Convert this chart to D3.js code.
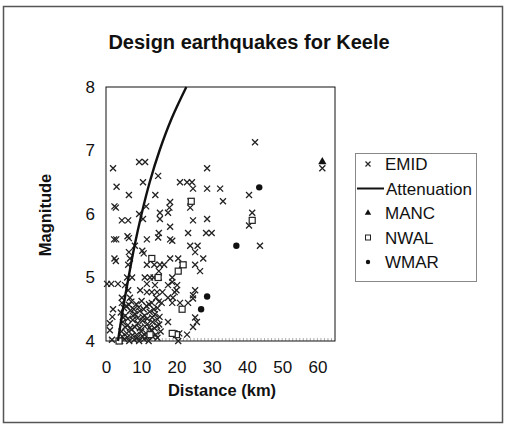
<!DOCTYPE html>
<html>
<head>
<meta charset="utf-8">
<script src="https://cdn.jsdelivr.net/npm/d3@7"></script>
<style>
body { margin: 0; background: #fff; }
text { font-family: "Liberation Sans", Arial, sans-serif; fill: #111; }
</style>
</head>
<body>
<svg id="chart" width="506" height="426"></svg>
<script>
// Data: [distance km, magnitude]
var emidPoints = [
  [2.0,6.72],[9.4,6.82],[11.1,6.82],[14.8,6.6],[28.7,6.72],[42.3,7.13],[61.4,6.72],
  [3.0,6.43],[10.5,6.5],[21.0,6.5],[23.0,6.5],[24.4,6.5],[24.7,6.4],[28.7,6.4],[32.4,6.4],
  [6.5,6.3],[14.0,6.3],[40.6,6.3],
  [2.4,6.12],[2.8,6.1],[11.4,6.12],[18.2,6.19],[24.0,6.2],[33.2,6.2],[23.9,6.1],[18.0,6.1],
  [9.4,6.0],[15.3,6.02],[17.6,6.02],[41.5,6.02],
  [4.5,5.9],[6.3,5.9],[10.5,5.92],[15.3,5.92],[24.7,5.9],[28.7,5.92],[40.6,5.82],[18.2,5.8],
  [15.0,5.7],[23.3,5.7],[28.4,5.7],[30.0,5.7],
  [2.3,5.6],[2.9,5.6],[6.1,5.65],[6.5,5.62],[11.6,5.6],[14.8,5.63],[18.2,5.6],[18.8,5.58],
  [23.9,5.5],[26.0,5.5],[43.7,5.5],[8.2,5.5],
  [6.5,5.4],[10.3,5.42],[10.7,5.38],[25.3,5.4],
  [2.4,5.3],[2.8,5.26],[6.8,5.3],[18.2,5.3],[20.5,5.3],[27.6,5.3],
  [6.3,5.2],[11.6,5.2],[13.7,5.2],[15.3,5.2],[16.5,5.2],[21.6,5.2],[21.9,5.2],[25.3,5.2],
  [15.0,5.1],[26.7,5.1],
  [6.0,5.0],[7.4,5.0],[11.0,5.0],[12.5,5.0],[13.5,5.0],[15.0,5.0],[18.8,5.0],
  [0.3,4.9],[1.5,4.9],[3.4,4.9],[5.4,4.88],[11.6,4.9],[13.9,4.88],[17.6,4.88],[20.2,4.88],[18.8,4.93],
  [6.3,4.8],[9.7,4.8],[20.0,4.8],[25.3,4.8],
  [11.6,4.77],[13.0,4.77],[14.5,4.77],[16.0,4.77],[19.5,4.77],[24.7,4.72],
  [4.5,4.68],[6.8,4.68],[14.2,4.68],[17.6,4.68],[19.0,4.68],[23.3,4.6],[18.8,4.6],[21.0,4.6],[24.7,4.67],
  [2.0,4.5],[1.8,4.38],[25.3,4.37],[17.6,4.3],[25.8,4.3],[24.7,4.22],[1.1,4.28],[1.1,4.17],
  [1.7,4.02],[4.0,4.0],[23.0,4.1],[19.4,4.12],[20.8,4.12],[20.5,4.0],
  // dense cluster near the site
  [4.5,4.6],[5.8,4.55],[7.2,4.62],[8.6,4.58],[10.1,4.63],[11.5,4.55],[13.0,4.6],[14.6,4.52],[15.8,4.6],
  [4.2,4.45],[5.5,4.4],[6.9,4.48],[8.3,4.42],[9.6,4.47],[11.0,4.4],[12.4,4.46],[13.9,4.42],[15.2,4.38],
  [4.8,4.3],[6.2,4.25],[7.6,4.33],[9.0,4.28],[10.4,4.32],[11.8,4.27],[13.2,4.3],[14.5,4.24],
  [4.4,4.15],[5.9,4.12],[7.3,4.18],[8.7,4.1],[10.0,4.15],[11.4,4.12],[12.8,4.17],[14.1,4.1],[15.5,4.15],
  [5.2,4.03],[6.6,4.0],[8.0,4.02],[9.4,4.0],[10.8,4.03],[12.1,4.0],
  [5.1,4.52],[6.5,4.57],[7.9,4.5],[9.3,4.53],[10.7,4.5],[12.2,4.58],[13.6,4.5],[15.0,4.62],
  [4.9,4.37],[6.2,4.35],[7.6,4.4],[9.0,4.36],[10.4,4.38],[11.7,4.35],[13.1,4.37],[14.6,4.34],
  [5.4,4.22],[6.8,4.2],[8.2,4.22],[9.6,4.2],[11.0,4.23],[12.4,4.21],[13.8,4.2],[15.1,4.26],
  [4.6,4.07],[6.1,4.06],[7.5,4.09],[8.9,4.05],[10.3,4.08],[11.7,4.06],[13.2,4.07],[14.6,4.05]
];
var nwalPoints = [
  [24.2,6.2],[41.5,5.9],[13.0,5.3],[21.9,5.2],[20.5,5.1],[14.8,5.0],
  [21.6,4.5],[20.0,4.1],[3.7,4.0],[12.5,4.1],[18.8,4.12]
];
var mancPoints = [[61.4,6.82]];
var wmarPoints = [[43.5,6.42],[37.0,5.5],[28.7,4.7],[27.0,4.5]];

// Attenuation curve, read at half-magnitude steps
var attenMag  = [4.0, 4.5, 5.0, 5.5, 6.0, 6.5, 7.0, 7.5, 8.0];
var attenDist = [3.4, 4.8, 6.4, 8.1, 10.1, 12.4, 15.2, 18.6, 22.8];

var xTicks = [0, 10, 20, 30, 40, 50, 60];
var yTicks = [4, 5, 6, 7, 8];
var legendNames = ['EMID', 'Attenuation', 'MANC', 'NWAL', 'WMAR'];

var svg = d3.select('#chart');

// outer frame of the figure
svg.append('rect')
  .attr('x', 3.5).attr('y', 6.5).attr('width', 499).attr('height', 416)
  .attr('fill', 'none').attr('stroke', '#555').attr('stroke-width', 1.5);

var x = d3.scaleLinear().domain([0, 65]).range([106, 335]),
    y = d3.scaleLinear().domain([4, 8]).range([341, 87]);

// title
svg.append('text')
  .attr('x', 249).attr('y', 49)
  .attr('text-anchor', 'middle')
  .style('font-size', '20px').style('font-weight', 'bold')
  .text('Design earthquakes for Keele');

// axes
var gx = svg.append('g')
  .attr('transform', 'translate(0,341)')
  .call(d3.axisBottom(x).tickValues(xTicks).tickFormat(d3.format('d')).tickSize(0).tickPadding(20));
gx.select('.domain').remove();
gx.selectAll('text').style('font-size', '17px').attr('fill', '#111');

var gy = svg.append('g')
  .attr('transform', 'translate(106,0)')
  .call(d3.axisLeft(y).tickValues(yTicks).tickFormat(d3.format('d')).tickSize(0).tickPadding(11));
gy.select('.domain').remove();
gy.selectAll('text').style('font-size', '17px').attr('fill', '#111');

// minor inward ticks along the bottom edge
svg.append('g').selectAll('line')
  .data(d3.range(1, 65))
  .enter().append('line')
  .attr('x1', function(d) { return x(d); })
  .attr('x2', function(d) { return x(d); })
  .attr('y1', 341).attr('y2', 338)
  .attr('stroke', '#999').attr('stroke-width', 0.8);

// axis titles
svg.append('text')
  .attr('x', 222).attr('y', 396)
  .attr('text-anchor', 'middle')
  .style('font-size', '16.5px').style('font-weight', 'bold')
  .text('Distance (km)');
svg.append('text')
  .attr('transform', 'translate(51,215) rotate(-90)')
  .attr('text-anchor', 'middle')
  .style('font-size', '16.5px').style('font-weight', 'bold')
  .text('Magnitude');

// plot frame
svg.append('rect')
  .attr('x', 106).attr('y', 87).attr('width', 229).attr('height', 254)
  .attr('fill', 'none').attr('stroke', '#111').attr('stroke-width', 1);

var crossPath = 'M-3,-3L3,3M-3,3L3,-3';

// EMID crosses
svg.append('g').selectAll('path')
  .data(emidPoints)
  .enter().append('path')
  .attr('d', crossPath)
  .attr('transform', function(d) { return 'translate(' + x(d[0]) + ',' + y(d[1]) + ')'; })
  .attr('fill', 'none').attr('stroke', '#222').attr('stroke-width', 1.3);

// MANC triangles
svg.append('g').selectAll('path')
  .data(mancPoints)
  .enter().append('path')
  .attr('d', d3.symbol().type(d3.symbolTriangle).size(30))
  .attr('transform', function(d) { return 'translate(' + x(d[0]) + ',' + y(d[1]) + ')'; })
  .attr('fill', '#111');

// NWAL squares
svg.append('g').selectAll('rect')
  .data(nwalPoints)
  .enter().append('rect')
  .attr('x', function(d) { return x(d[0]) - 3; })
  .attr('y', function(d) { return y(d[1]) - 3; })
  .attr('width', 6).attr('height', 6)
  .attr('fill', '#fff').attr('stroke', '#222').attr('stroke-width', 1.2);

// WMAR dots
svg.append('g').selectAll('circle')
  .data(wmarPoints)
  .enter().append('circle')
  .attr('cx', function(d) { return x(d[0]); })
  .attr('cy', function(d) { return y(d[1]); })
  .attr('r', 3.2)
  .attr('fill', '#111');

// attenuation curve
var line = d3.line()
  .x(function(d, i) { return x(attenDist[i]); })
  .y(function(d) { return y(d); })
  .curve(d3.curveCatmullRom);
svg.append('path')
  .datum(attenMag)
  .attr('d', line)
  .attr('fill', 'none').attr('stroke', '#111').attr('stroke-width', 2.4);

// legend
var leg = svg.append('g');
leg.append('rect')
  .attr('x', 355.5).attr('y', 153.5).attr('width', 121).attr('height', 128)
  .attr('fill', '#fff').attr('stroke', '#888').attr('stroke-width', 1);

var legY = d3.scalePoint().domain(legendNames).range([164, 262]);

legendNames.forEach(function(name) {
  var cy = legY(name), cx = 368;
  if (name == 'EMID') {
    leg.append('path').attr('d', 'M-2.5,-2.5L2.5,2.5M-2.5,2.5L2.5,-2.5')
      .attr('transform', 'translate(' + cx + ',' + cy + ')')
      .attr('stroke', '#222').attr('stroke-width', 1.2);
  } else if (name == 'Attenuation') {
    leg.append('line').attr('x1', 357).attr('x2', 384).attr('y1', cy).attr('y2', cy)
      .attr('stroke', '#111').attr('stroke-width', 2);
  } else if (name == 'MANC') {
    leg.append('path').attr('d', d3.symbol().type(d3.symbolTriangle).size(18))
      .attr('transform', 'translate(' + cx + ',' + cy + ')').attr('fill', '#111');
  } else if (name == 'NWAL') {
    leg.append('rect').attr('x', cx - 2.5).attr('y', cy - 2.5).attr('width', 5).attr('height', 5)
      .attr('fill', '#fff').attr('stroke', '#222').attr('stroke-width', 1);
  } else {
    leg.append('circle').attr('cx', cx).attr('cy', cy).attr('r', 2.2).attr('fill', '#111');
  }
  leg.append('text')
    .attr('x', name == 'Attenuation' ? 386 : 385).attr('y', cy + 6)
    .style('font-size', '17px')
    .text(name);
});
</script>
</body>
</html>
